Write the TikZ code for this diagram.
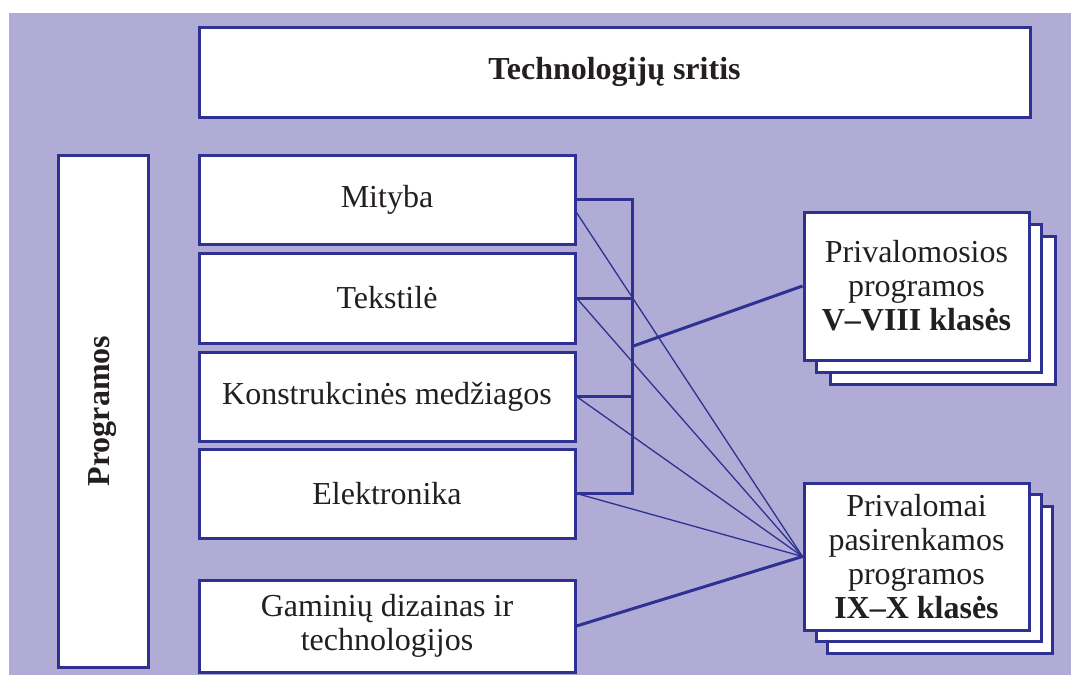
\documentclass[tikz,border=0pt]{standalone}
\usepackage{fontspec}
\setmainfont{Liberation Serif}
\usetikzlibrary{calc}
\definecolor{bgp}{HTML}{B0ACD6}
\definecolor{bord}{HTML}{2E3192}
\definecolor{txt}{HTML}{231F20}
\begin{document}
\begin{tikzpicture}[x=1pt,y=-1pt,
  box/.style={draw=bord,line width=3pt,fill=white,inner sep=0pt,align=center,text=txt,
    font=\fontsize{32}{34}\selectfont},
  leftbox/.style={box,minimum width=376pt},
  stackbox/.style={box,minimum width=225pt},
  thinline/.style={draw=bord,line width=1.3pt},
  thickline/.style={draw=bord,line width=3pt}]
\useasboundingbox (0,0) rectangle (1071,675);
\fill[bgp] (9,13) rectangle (1071,675);
% header
\node[box,minimum width=831pt,minimum height=90pt] (top) at (614.5,72) {\textbf{Technologijų sritis}};
% programos
\node[box,minimum width=90pt,minimum height=512pt] (prog) at (103,411) {};
\node[rotate=90,text=txt,font=\fontsize{32}{34}\selectfont\bfseries] (progt) at (prog.center) {Programos};
% left boxes
\node[leftbox,minimum height=89pt] (mityba) at (387,199.5) {Mityba};
\node[leftbox,minimum height=90pt] (tekst) at (387,298) {Tekstilė};
\node[leftbox,minimum height=89pt] (konstr) at (387,396.5) {Konstrukcinės medžiagos};
\node[leftbox,minimum height=89pt] (elek) at (387,493.5) {Elektronika};
\node[leftbox,minimum height=92pt] (gamin) at (387,626) {Gaminių dizainas ir\\technologijos};
% stacked boxes 1
\node[stackbox,minimum height=148pt] (p1c) at (942.5,310) {};
\node[stackbox,minimum height=148pt] (p1b) at (928.5,298) {};
\node[stackbox,minimum height=148pt] (p1) at (916.5,286) {Privalomosios\\programos\\\textbf{V–VIII klasės}};
% stacked boxes 2
\node[stackbox,minimum height=147pt] (p2c) at (940,579.5) {};
\node[stackbox,minimum height=147pt] (p2b) at (928.5,568) {};
\node[stackbox,minimum height=147pt] (p2) at (916.5,556.5) {Privalomai\\pasirenkamos\\programos\\\textbf{IX–X klasės}};
% bracket
\coordinate (bx) at (632,0);
\coordinate (bm1) at (mityba.east -| bx);
\coordinate (bm4) at (elek.east -| bx);
\coordinate (bmid) at ($(bm1)!0.5!(bm4)$);
\draw[thickline] (mityba.east) -- (bm1) -- (bm4) -- (elek.east);
\draw[thickline] (tekst.east) -- (tekst.east -| bx);
\draw[thickline] (konstr.east) -- (konstr.east -| bx);
\draw[thickline] (bmid) -- (p1.west);
% fan lines
\draw[thinline] ([yshift=-13pt]mityba.east) -- (p2.west);
\draw[thinline] (tekst.east) -- (p2.west);
\draw[thinline] (konstr.east) -- (p2.west);
\draw[thinline] (elek.east) -- (p2.west);
\draw[thickline] (gamin.east) -- (p2.west);
\end{tikzpicture}
\end{document}
